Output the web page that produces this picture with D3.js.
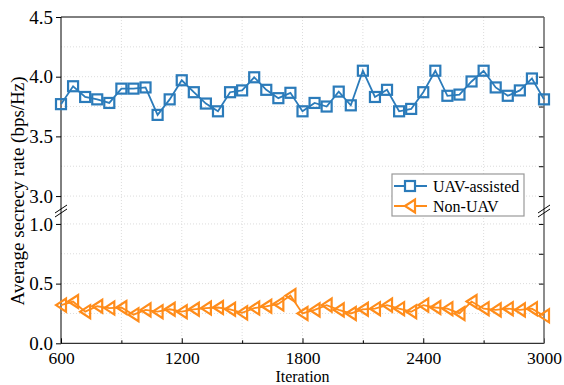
<!DOCTYPE html>
<html>
<head>
<meta charset="utf-8">
<script src="https://cdn.jsdelivr.net/npm/d3@7"></script>
<style>
  body { margin: 0; background: #fff; }
  svg text { font-family: "Liberation Serif", "Times New Roman", "DejaVu Serif", serif !important; fill: #000; }
</style>
</head>
<body>
<div id="chart"></div>
<script>
// Data
var iterations = d3.range(600, 3001, 60);
var uavAssisted = [3.77, 3.92, 3.83, 3.81, 3.78, 3.90, 3.90, 3.91, 3.68, 3.81,
                   3.97, 3.87, 3.775, 3.71, 3.87, 3.885, 3.995, 3.89, 3.82, 3.865,
                   3.71, 3.78, 3.75, 3.875, 3.76, 4.05, 3.83, 3.89, 3.71, 3.73,
                   3.87, 4.05, 3.84, 3.85, 3.96, 4.05, 3.91, 3.84, 3.885, 3.985, 3.81];
var nonUav = [0.32, 0.35, 0.265, 0.31, 0.295, 0.30, 0.24, 0.28, 0.265, 0.285,
              0.265, 0.285, 0.295, 0.30, 0.285, 0.255, 0.295, 0.31, 0.33, 0.40,
              0.25, 0.28, 0.32, 0.28, 0.25, 0.285, 0.29, 0.32, 0.29, 0.265,
              0.32, 0.30, 0.29, 0.25, 0.35, 0.29, 0.28, 0.29, 0.28, 0.29, 0.23];
var xTicks = [600, 1200, 1800, 2400, 3000];
var upperTicks = [3.0, 3.5, 4.0, 4.5];
var lowerTicks = [0.0, 0.5, 1.0];
var seriesNames = ["UAV-assisted", "Non-UAV"];

var svgWidth = 564, svgHeight = 385;
var left = 61, right = 544;
var blue = "#2b7bba", orange = "#ff8c1a";

var svg = d3.select("#chart").append("svg")
    .attr("width", svgWidth)
    .attr("height", svgHeight);

// scales
var x = d3.scaleLinear().domain([600, 3000]).range([left, right]);
var yUp = d3.scaleLinear().domain([2.9, 4.5]).range([208, 17]);
var yLow = d3.scaleLinear().domain([0, 1.1]).range([343.3, 212]);

// grid
var grid = svg.append("g").attr("stroke", "#dcdcdc").attr("stroke-dasharray", "1,2");
d3.range(900, 3000, 300).forEach(function(v) {
    grid.append("line").attr("x1", x(v)).attr("x2", x(v)).attr("y1", 17).attr("y2", 343);
});
d3.range(3.0, 4.5, 0.25).forEach(function(v) {
    grid.append("line").attr("x1", left).attr("x2", right).attr("y1", yUp(v)).attr("y2", yUp(v));
});
d3.range(0.25, 1.01, 0.25).forEach(function(v) {
    grid.append("line").attr("x1", left).attr("x2", right).attr("y1", yLow(v)).attr("y2", yLow(v));
});

// axes
var axisFont = function(size) {
    return function(g) {
        g.attr("font-family", null).attr("font-size", null);
        g.selectAll("text").style("font-size", size + "px");
        g.select(".domain").remove();
    };
};

svg.append("g")
    .attr("transform", "translate(0,343.3)")
    .call(d3.axisBottom(x).tickValues(xTicks).tickFormat(d3.format("d")).tickSizeInner(-5).tickSizeOuter(0).tickPadding(8))
    .call(axisFont(17.5));
svg.append("g")
    .attr("transform", "translate(0,343.3)")
    .call(d3.axisBottom(x).tickValues(d3.range(900, 3000, 600)).tickSizeInner(-3).tickSizeOuter(0).tickFormat(""))
    .call(axisFont(17.5));

svg.append("g")
    .attr("transform", "translate(" + left + ",0)")
    .call(d3.axisLeft(yUp).tickValues(upperTicks).tickFormat(d3.format(".1f")).tickSizeInner(5).tickSizeOuter(0).tickPadding(3))
    .call(axisFont(19));
svg.append("g")
    .attr("transform", "translate(" + left + ",0)")
    .call(d3.axisLeft(yLow).tickValues(lowerTicks).tickFormat(d3.format(".1f")).tickSizeInner(5).tickSizeOuter(0).tickPadding(3))
    .call(axisFont(19));

// right side ticks (inward)
svg.append("g")
    .attr("transform", "translate(" + right + ",0)")
    .call(d3.axisLeft(yUp).tickValues([3.0, 3.25, 3.5, 3.75, 4.0, 4.25]).tickSize(5).tickFormat(""))
    .call(axisFont(18));
svg.append("g")
    .attr("transform", "translate(" + right + ",0)")
    .call(d3.axisLeft(yLow).tickValues([0.25, 0.5, 0.75, 1.0]).tickSize(5).tickFormat(""))
    .call(axisFont(18));

// frame
svg.append("line").attr("x1", left).attr("x2", right).attr("y1", 17).attr("y2", 17).attr("stroke", "#000");
svg.append("line").attr("x1", left).attr("x2", right).attr("y1", 343.3).attr("y2", 343.3).attr("stroke", "#000");
svg.append("line").attr("x1", left).attr("x2", left).attr("y1", 17).attr("y2", 343.3).attr("stroke", "#000");
svg.append("line").attr("x1", right).attr("x2", right).attr("y1", 17).attr("y2", 343.3).attr("stroke", "#666").attr("stroke-width", 1.5);

// break marks
[left, right].forEach(function(px) {
    [-2, 2].forEach(function(o) {
        svg.append("line")
            .attr("x1", px - 6).attr("y1", 212 + o + 3)
            .attr("x2", px + 6).attr("y2", 212 + o - 5)
            .attr("stroke", "#000");
    });
});

// series
var upData = iterations.map(function(d, i) { return [d, uavAssisted[i]]; });
var lowData = iterations.map(function(d, i) { return [d, nonUav[i]]; });

var plot = svg.append("g");

plot.append("path")
    .datum(upData)
    .attr("fill", "none")
    .attr("stroke", blue)
    .attr("stroke-width", 1.8)
    .attr("d", d3.line().x(d => x(d[0])).y(d => yUp(d[1])));

plot.selectAll(".sq")
    .data(upData)
    .enter().append("rect")
    .attr("x", d => x(d[0]) - 5)
    .attr("y", d => yUp(d[1]) - 5)
    .attr("width", 10)
    .attr("height", 10)
    .attr("fill", "none")
    .attr("stroke", blue)
    .attr("stroke-width", 2.2);

plot.append("path")
    .datum(lowData)
    .attr("fill", "none")
    .attr("stroke", orange)
    .attr("stroke-width", 1.8)
    .attr("d", d3.line().x(d => x(d[0])).y(d => yLow(d[1])));

var tri = "M-5,0L5,-6.5L5,6.5Z";
plot.selectAll(".tri")
    .data(lowData)
    .enter().append("path")
    .attr("transform", d => "translate(" + x(d[0]) + "," + yLow(d[1]) + ")")
    .attr("d", tri)
    .attr("fill", "none")
    .attr("stroke", orange)
    .attr("stroke-width", 2.2);

// legend
var legend = svg.append("g");
legend.append("rect")
    .attr("x", 392).attr("y", 174).attr("width", 132).attr("height", 42)
    .attr("fill", "#fff").attr("stroke", "#999").attr("stroke-width", 1.2);

var legendRows = [{ y: 186, color: blue }, { y: 206, color: orange }];
legendRows.forEach(function(r, i) {
    legend.append("line")
        .attr("x1", 394).attr("x2", 427).attr("y1", r.y).attr("y2", r.y)
        .attr("stroke", r.color).attr("stroke-width", 1.8);
    if (i === 0) {
        legend.append("rect")
            .attr("x", 405).attr("y", r.y - 5).attr("width", 10).attr("height", 10)
            .attr("fill", "#fff").attr("stroke", r.color).attr("stroke-width", 2.2);
    } else {
        legend.append("path")
            .attr("transform", "translate(410," + r.y + ")")
            .attr("d", tri)
            .attr("fill", "#fff").attr("stroke", r.color).attr("stroke-width", 2.2);
    }
    legend.append("text")
        .attr("x", 433).attr("y", r.y + 5.5)
        .style("font-size", "16px")
        .text(seriesNames[i]);
});

// axis titles
svg.append("text")
    .attr("x", (left + right) / 2).attr("y", 382)
    .attr("text-anchor", "middle")
    .style("font-size", "16px")
    .text("Iteration");

svg.append("text")
    .attr("transform", "translate(24,191) rotate(-90)")
    .attr("text-anchor", "middle")
    .style("font-size", "19px")
    .text("Average secrecy rate (bps/Hz)");
</script>
</body>
</html>
